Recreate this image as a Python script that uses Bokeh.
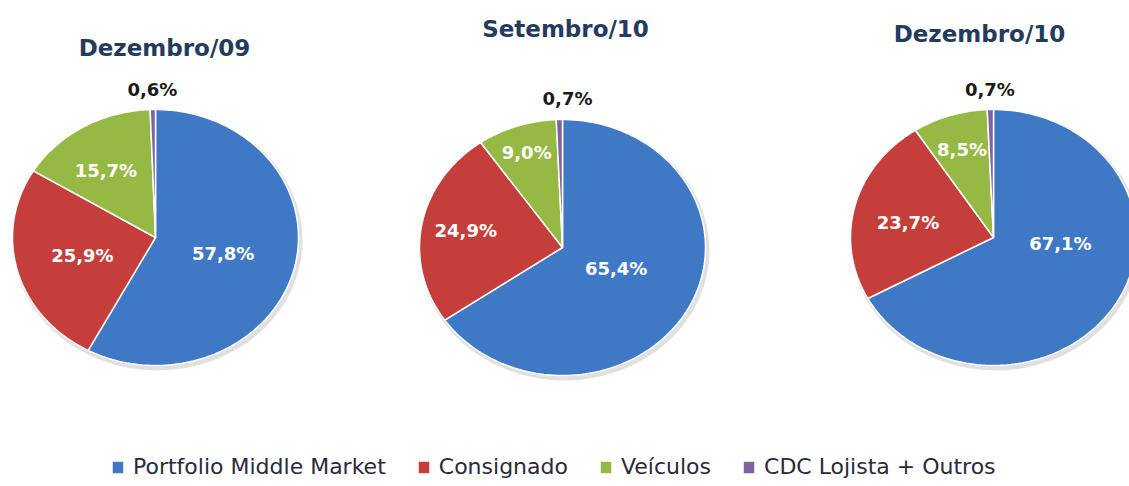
import numpy as np
from bokeh.plotting import figure
from bokeh.models import ColumnDataSource, Legend, LegendItem, Range1d
from bokeh.core.properties import value
from bokeh.embed import file_html
from bokeh.resources import INLINE

# ---------------- data ----------------
categories = ["Portfolio Middle Market", "Consignado", "Veículos", "CDC Lojista + Outros"]
periods = ["Dezembro/09", "Setembro/10", "Dezembro/10"]
dez09 = [57.8, 25.9, 15.7, 0.6]
set10 = [65.4, 24.9, 9.0, 0.7]
dez10 = [67.1, 23.7, 8.5, 0.7]
series = [dez09, set10, dez10]

# ---------------- style / layout ----------------
colors = ["#3F79C6", "#C43F3B", "#95B944", "#7E63A0"]
W, H = 1129, 486
centers = [(155, 237), (562, 247), (993, 237)]
RX, RY = 143, 128
title_pos = [(164, 47), (565, 28), (979, 33)]
label_frac = [[0.49, 0.53, 0.63, 1.16], [0.41, 0.69, 0.78, 1.165], [0.47, 0.61, 0.72, 1.16]]
label_shift = [[1, 0, -3, 0], [-4, 1, 0, 3], [-25, -3, 0, 0]]
label_colors = ["white", "white", "white", "#1a1a1a"]
title_color = "#243B5E"
FONT = "DejaVu Sans"

p = figure(width=W, height=H, output_backend="svg", toolbar_location=None,
           x_range=Range1d(0, W), y_range=Range1d(H, 0),
           min_border=0, outline_line_color=None, background_fill_color="white")
p.axis.visible = False
p.grid.visible = False


def ell(cx, cy, t_deg, f=1.0):
    t = np.radians(t_deg)
    return cx + RX * f * np.sin(t), cy - RY * f * np.cos(t)


legend_renderer = None
for k, vals in enumerate(series):
    cx, cy = centers[k]
    total = sum(vals)
    # soft shadow
    p.ellipse(x=[cx + 2], y=[cy + 3], width=[2 * RX + 4], height=[2 * RY + 4],
              fill_color="#000000", fill_alpha=0.12, line_color=None)
    xs, ys = [], []
    start = 0.0
    mids = []
    for v in vals:
        span = 360.0 * v / total
        n = max(3, int(span / 1.5) + 2)
        t = np.linspace(start, start + span, n)
        ex, ey = ell(cx, cy, t)
        xs.append([cx] + list(ex))
        ys.append([cy] + list(ey))
        mids.append(start + span / 2)
        start += span
    src = ColumnDataSource(dict(xs=xs, ys=ys, color=colors, cat=categories))
    r = p.patches("xs", "ys", source=src, fill_color="color", line_color="white", line_width=1.5)
    if legend_renderer is None:
        legend_renderer = r
    # labels
    lx, ly, lt = [], [], []
    for i, v in enumerate(vals):
        x, y = ell(cx, cy, mids[i] + label_shift[k][i], label_frac[k][i])
        lx.append(x)
        ly.append(y)
        lt.append(f"{v:.1f}%".replace(".", ","))
    lsrc = ColumnDataSource(dict(x=lx, y=ly, t=lt, c=label_colors))
    p.text("x", "y", text="t", source=lsrc, text_color="c", text_font=value(FONT),
           text_font_style="bold", text_font_size="18px", text_align="center",
           text_baseline="middle")
    # title
    p.text(x=[title_pos[k][0]], y=[title_pos[k][1]], text=[periods[k]], text_color=title_color,
           text_font=value(FONT), text_font_style="bold", text_font_size="23px",
           text_align="center", text_baseline="middle")

items = [LegendItem(label=c, renderers=[legend_renderer], index=i) for i, c in enumerate(categories)]
legend = Legend(items=items, orientation="horizontal", location=(110, 7),
                glyph_width=15, glyph_height=16, label_standoff=8, spacing=30,
                padding=0, margin=0, border_line_alpha=0, background_fill_alpha=0,
                label_text_font=FONT, label_text_font_size="22px", label_text_color="#2a2a3a",
                label_height=22)
p.add_layout(legend, "center")

open("out.html", "w").write(file_html(p, INLINE))
